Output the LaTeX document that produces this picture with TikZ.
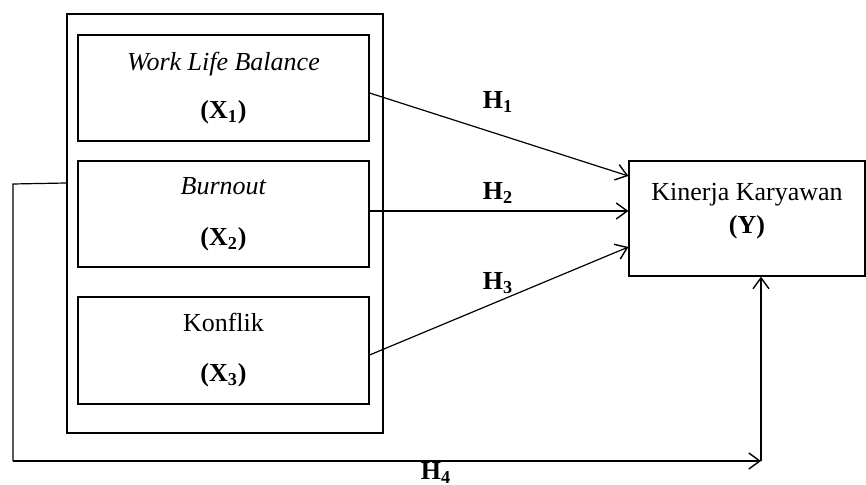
\documentclass[tikz,border=0pt]{standalone}
\usepackage{fontspec}
\setmainfont{Liberation Serif}
\usetikzlibrary{arrows.meta}

\begin{document}
\begin{tikzpicture}[x=0.5pt, y=-0.5pt,
    every node/.style={font=\fontsize{13}{15}\selectfont, align=center},
    box/.style={draw, line width=0.6pt, minimum width=145.5pt, minimum height=53pt, inner sep=0pt},
    arr/.style={line width=0.6pt, -{Straight Barb[length=5.5pt, width=8pt, line width=0.7pt]}}]

    \useasboundingbox (0,0) rectangle (866,485);

    \node [draw, line width=0.6pt, minimum width=158pt, minimum height=209.5pt] (outer) at (225,223.5) {};

    \node [box] (wlb) at (223.5,88) {\textit{Work Life Balance}\\[9pt]\textbf{(X\textsubscript{1})}};
    \node [box] (burn) at (223.5,214) {\textit{Burnout}\\[10.5pt]\textbf{(X\textsubscript{2})}};
    \node [box, minimum height=53.5pt] (konf) at (223.5,350.5) {Konflik\\[10pt]\textbf{(X\textsubscript{3})}};

    \node [draw, line width=0.6pt, minimum width=118pt, minimum height=57.5pt] (kin) at (747,218.5) {};
    \node (kintxt) at ([yshift=3.5pt]kin.center) {Kinerja Karyawan\\[1.5pt]\textbf{(Y)}};

    \draw [arr] ([yshift=-2.5pt]wlb.east) -- ([yshift=21.25pt]kin.west);
    \draw [arr] ([yshift=1.5pt]burn.east) -- ([yshift=1.5pt]burn.east -| kin.west);
    \draw [arr] ([yshift=-2.25pt]konf.east) -- ([yshift=-14.25pt]kin.west);

    \node (h1) at (498,102) {\textbf{H\textsubscript{1}}};
    \node (h2) at (498,193) {\textbf{H\textsubscript{2}}};
    \node (h3) at (498,283) {\textbf{H\textsubscript{3}}};
    \node (h4) at (436,473) {\textbf{H\textsubscript{4}}};

    \coordinate (start4) at (outer.west |- 0,183);
    \coordinate (corner4) at (761,461);
    \draw [line width=0.6pt] (start4) -- (13,184) -- (13,461);
    \draw [arr] (13,461) -- (corner4);
    \draw [arr] (corner4) -- (corner4 |- kin.south);

\end{tikzpicture}
\end{document}
